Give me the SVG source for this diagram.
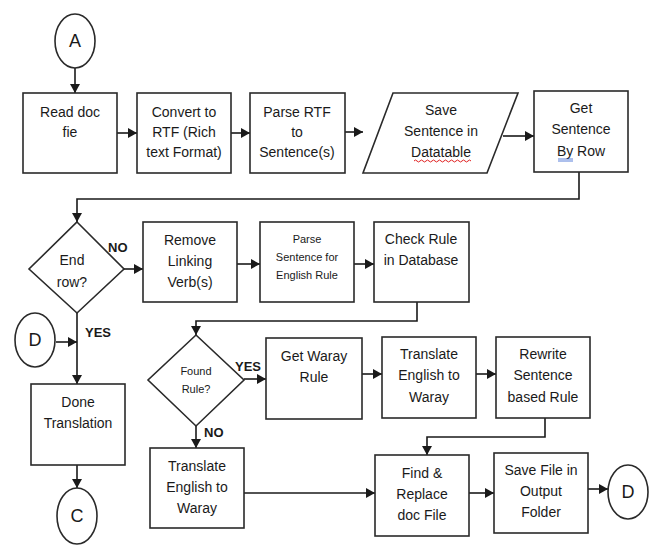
<svg xmlns="http://www.w3.org/2000/svg" width="658" height="547" viewBox="0 0 658 547">
<defs>
<marker id="ah" markerUnits="userSpaceOnUse" markerWidth="10" markerHeight="10" refX="9" refY="5" orient="auto">
<path d="M0,0 L9,5 L0,10 Z" fill="#1a1a1a"/>
</marker>
<style>
.b{fill:#fff;stroke:#2a2a2a;stroke-width:1.6}
.t{font-family:"Liberation Sans",Arial,sans-serif;font-size:14px;fill:#1a1a1a;text-anchor:middle}
.s{font-size:11px}
.k{font-size:18px}
.l{font-family:"Liberation Sans",Arial,sans-serif;font-size:13px;fill:#1a1a1a;font-weight:bold}
.c{fill:none;stroke:#1a1a1a;stroke-width:1.6}
.a{marker-end:url(#ah)}
</style>
</defs>
<rect width="658" height="547" fill="#fff"/>
<g id="connectors">
<path class="c a" d="M75,68 L75,93"/>
<path class="c a" d="M117,133 L137,133"/>
<path class="c a" d="M231,133 L250,133"/>
<path class="c a" d="M345,132 L363,132"/>
<path class="c a" d="M503,136 L534,136"/>
<path class="c a" d="M579,172 L579,199 L77,199 L77,222"/>
<path class="c a" d="M124,269 L143,269"/>
<path class="c a" d="M237,264 L260,264"/>
<path class="c a" d="M354,264 L374,264"/>
<path class="c a" d="M417,302 L417,321 L196,321 L196,335"/>
<path class="c a" d="M77,313 L77,384"/>
<path class="c a" d="M56,342 L77,342"/>
<path class="c a" d="M77,465 L77,488"/>
<path class="c a" d="M244,379 L266,379"/>
<path class="c a" d="M362,374 L382,374"/>
<path class="c a" d="M476,374 L496,374"/>
<path class="c a" d="M196,426 L196,448"/>
<path class="c a" d="M545,418 L545,437 L427,437 L427,455"/>
<path class="c a" d="M244,493 L375,493"/>
<path class="c a" d="M469,493 L494,493"/>
<path class="c a" d="M588,489 L608,489"/>
</g>
<g id="nodeA"><ellipse class="b" cx="75" cy="41" rx="20" ry="27"/><text class="t k" x="75" y="47">A</text></g>
<g id="readDoc"><rect class="b" x="23" y="93" width="94" height="80"/><text class="t" x="70" y="117">Read doc</text><text class="t" x="70" y="137">fie</text></g>
<g id="convert"><rect class="b" x="137" y="93" width="94" height="80"/><text class="t" x="184" y="117">Convert to</text><text class="t" x="184" y="137">RTF (Rich</text><text class="t" x="184" y="157">text Format)</text></g>
<g id="parseRtf"><rect class="b" x="250" y="93" width="95" height="80"/><text class="t" x="297" y="117">Parse RTF</text><text class="t" x="297" y="137">to</text><text class="t" x="297" y="157">Sentence(s)</text></g>
<g id="saveSentence"><polygon class="b" points="393,93 518,93 487,173 363,173"/><text class="t" x="441" y="115">Save</text><text class="t" x="441" y="136">Sentence in</text><text class="t" x="441" y="157">Datatable</text><path d="M414,161 q1.5,-2 3,0 t3,0 t3,0 t3,0 t3,0 t3,0 t3,0 t3,0 t3,0 t3,0 t3,0 t3,0 t3,0 t3,0 t3,0 t3,0 t3,0 t3,0 t3,0" fill="none" stroke="#e02020" stroke-width="1"/></g>
<g id="getSentence"><rect class="b" x="534" y="91" width="94" height="81"/><text class="t" x="581" y="113">Get</text><text class="t" x="581" y="134">Sentence</text><text class="t" x="581" y="156">By Row</text><path d="M558,159 L573,159 M558,161 L573,161" stroke="#3060d0" stroke-width="0.8"/></g>
<g id="endRow"><polygon class="b" points="77,222 124,269 77,313 29,269"/><text class="t" x="72" y="265">End</text><text class="t" x="72" y="287">row?</text></g>
<g id="removeVerb"><rect class="b" x="143" y="222" width="94" height="80"/><text class="t" x="190" y="245">Remove</text><text class="t" x="190" y="266">Linking</text><text class="t" x="190" y="287">Verb(s)</text></g>
<g id="parseSentence"><rect class="b" x="260" y="222" width="94" height="80"/><text class="t s" x="307" y="243">Parse</text><text class="t s" x="307" y="261">Sentence for</text><text class="t s" x="307" y="279">English Rule</text></g>
<g id="checkRule"><rect class="b" x="374" y="222" width="95" height="80"/><text class="t" x="421" y="244">Check Rule</text><text class="t" x="421" y="265">in Database</text></g>
<g id="nodeDLeft"><ellipse class="b" cx="35" cy="340" rx="20" ry="27"/><text class="t k" x="35" y="346">D</text></g>
<g id="doneTranslation"><rect class="b" x="31" y="384" width="94" height="81"/><text class="t" x="78" y="407">Done</text><text class="t" x="78" y="428">Translation</text></g>
<g id="nodeC"><ellipse class="b" cx="77" cy="516" rx="20" ry="28"/><text class="t k" x="77" y="522">C</text></g>
<g id="foundRule"><polygon class="b" points="196,335 244,380 196,426 148,380"/><text class="t s" x="196" y="375">Found</text><text class="t s" x="196" y="393">Rule?</text></g>
<g id="getWaray"><rect class="b" x="266" y="338" width="96" height="81"/><text class="t" x="314" y="361">Get Waray</text><text class="t" x="314" y="382">Rule</text></g>
<g id="translateUpper"><rect class="b" x="382" y="337" width="94" height="81"/><text class="t" x="429" y="359">Translate</text><text class="t" x="429" y="380">English to</text><text class="t" x="429" y="402">Waray</text></g>
<g id="rewrite"><rect class="b" x="496" y="337" width="94" height="81"/><text class="t" x="543" y="359">Rewrite</text><text class="t" x="543" y="380">Sentence</text><text class="t" x="543" y="402">based Rule</text></g>
<g id="translateLower"><rect class="b" x="150" y="448" width="94" height="80"/><text class="t" x="197" y="471">Translate</text><text class="t" x="197" y="492">English to</text><text class="t" x="197" y="513">Waray</text></g>
<g id="findReplace"><rect class="b" x="375" y="455" width="94" height="81"/><text class="t" x="422" y="478">Find &amp;</text><text class="t" x="422" y="499">Replace</text><text class="t" x="422" y="520">doc File</text></g>
<g id="saveFile"><rect class="b" x="494" y="453" width="94" height="80"/><text class="t" x="541" y="475">Save File in</text><text class="t" x="541" y="496">Output</text><text class="t" x="541" y="517">Folder</text></g>
<g id="nodeDRight"><ellipse class="b" cx="628" cy="492" rx="20" ry="27"/><text class="t k" x="628" y="498">D</text></g>
<g id="labels">
<text class="l" x="108" y="252">NO</text>
<text class="l" x="85" y="337">YES</text>
<text class="l" x="235" y="371">YES</text>
<text class="l" x="204" y="437">NO</text>
</g>
</svg>
